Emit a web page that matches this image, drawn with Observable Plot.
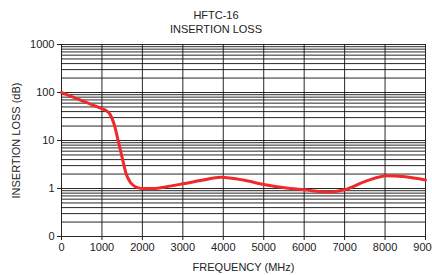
<!DOCTYPE html>
<html>
<head>
<meta charset="utf-8">
<script src="https://cdn.jsdelivr.net/npm/d3@7"></script>
<script src="https://cdn.jsdelivr.net/npm/@observablehq/plot@0.6"></script>
<style>
  body { margin: 0; background: #fff; }
  #wrap { position: relative; width: 432px; height: 275px; font-family: "Liberation Sans", Arial, sans-serif; }
  #title { position: absolute; top: 8px; left: 0; width: 432px; text-align: center; font-size: 11px; line-height: 14px; color: #222; z-index: 2; }
</style>
</head>
<body>
<div id="wrap">
  <div id="title">HFTC-16<br>INSERTION LOSS</div>
</div>
<script>
const freq = [0, 500, 1000, 1100, 1200, 1300, 1400, 1500, 1600, 1700, 1800, 1900, 2000, 2300, 2570, 3000, 3500, 3930, 4500, 5000, 5650, 6000, 6570, 7000, 7560, 8050, 8500, 9000];
const loss = [100, 68, 46, 42, 35, 22, 10, 4.4, 2.0, 1.35, 1.12, 1.03, 1.0, 1.0, 1.08, 1.25, 1.5, 1.71, 1.5, 1.21, 1.0, 0.94, 0.84, 0.94, 1.46, 1.85, 1.75, 1.5];
const xTicks = [0, 1000, 2000, 3000, 4000, 5000, 6000, 7000, 8000, 9000];
const yTicks = [0.1, 1, 10, 100, 1000];
const yTickLabels = ["0", "1", "10", "100", "1000"];

const data = freq.map((f, i) => ({f, v: loss[i]}));
const yGrid = d3.scaleLog().domain([0.1, 1000]).ticks();

const chart = Plot.plot({
  width: 432,
  height: 275,
  marginLeft: 61,
  marginRight: 7,
  marginTop: 44,
  marginBottom: 39,
  style: {fontFamily: "Liberation Sans, Arial, sans-serif", fontSize: "11px", color: "#222", background: "#fff"},
  x: {domain: [0, 9000]},
  y: {type: "log", domain: [0.1, 1000]},
  marks: [
    Plot.gridY(yGrid, {stroke: "#111", strokeOpacity: 0.9, strokeWidth: 1}),
    Plot.gridX(xTicks, {stroke: "#111", strokeOpacity: 0.9, strokeWidth: 1}),
    Plot.axisX({ticks: xTicks, tickSize: 4, tickPadding: 3, tickFormat: d => String(d), label: "FREQUENCY (MHz)", labelAnchor: "center", labelArrow: "none", labelOffset: 34}),
    Plot.axisY({ticks: yTicks, tickSize: 4, tickPadding: 3, tickFormat: d => yTickLabels[yTicks.indexOf(d)], label: "INSERTION LOSS (dB)", labelAnchor: "center", labelArrow: "none", labelOffset: 49}),
    Plot.line(data, {x: "f", y: "v", stroke: "#ee2a2a", strokeWidth: 3, curve: "monotone-x"})
  ]
});
document.getElementById("wrap").appendChild(chart);
</script>
</body>
</html>
